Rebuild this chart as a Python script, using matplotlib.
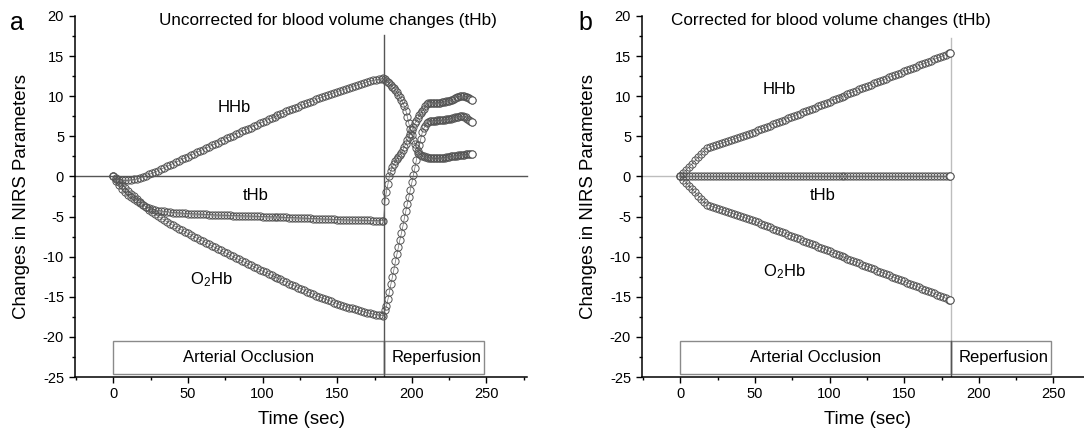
import numpy as np
import matplotlib
matplotlib.use("Agg")
import matplotlib.pyplot as plt
from matplotlib.ticker import MultipleLocator
from matplotlib.patches import Rectangle

plt.rcParams['font.family'] = ['Liberation Sans', 'DejaVu Sans']
plt.rcParams['mathtext.fontset'] = 'custom'
plt.rcParams['mathtext.rm'] = 'Liberation Sans'
plt.rcParams['mathtext.it'] = 'Liberation Sans'
plt.rcParams['axes.unicode_minus'] = False

# ---------------- data ----------------
# sampling grid: 2 s during occlusion, then 1 s during reperfusion
t_occ = np.arange(0, 181, 2).tolist() + [181]
t_rep = np.arange(182, 241, 1).tolist()

# panel a: uncorrected, occlusion phase
hhb_a_occ = [0.00, -0.25, -0.40, -0.48, -0.50, -0.48, -0.44, -0.38, -0.30, -0.18,
             -0.05, 0.10, 0.25, 0.40, 0.55, 0.72, 0.90, 1.08, 1.25, 1.42,
             1.60, 1.78, 1.95, 2.12, 2.30, 2.48, 2.65, 2.82, 3.00, 3.18,
             3.35, 3.52, 3.70, 3.88, 4.05, 4.22, 4.40, 4.58, 4.75, 4.92,
             5.10, 5.28, 5.45, 5.62, 5.80, 5.95, 6.10, 6.28, 6.45, 6.62,
             6.80, 6.95, 7.10, 7.28, 7.45, 7.60, 7.75, 7.92, 8.10, 8.25,
             8.40, 8.55, 8.70, 8.85, 9.00, 9.15, 9.30, 9.45, 9.60, 9.75,
             9.90, 10.02, 10.15, 10.30, 10.45, 10.58, 10.70, 10.82, 10.95, 11.08,
             11.20, 11.32, 11.45, 11.55, 11.65, 11.78, 11.90, 11.98, 12.05, 12.12,
             12.20, 12.30]
thb_a_occ = [0.00, -0.55, -1.10, -1.55, -1.95, -2.30, -2.60, -2.85, -3.10, -3.35,
             -3.55, -3.75, -3.90, -4.05, -4.15, -4.25, -4.30, -4.35, -4.40, -4.45,
             -4.50, -4.52, -4.55, -4.57, -4.60, -4.62, -4.65, -4.67, -4.70, -4.70,
             -4.72, -4.73, -4.75, -4.78, -4.80, -4.81, -4.82, -4.84, -4.85, -4.86,
             -4.87, -4.89, -4.90, -4.91, -4.92, -4.94, -4.95, -4.96, -4.97, -4.99,
             -5.00, -5.01, -5.02, -5.04, -5.05, -5.07, -5.08, -5.09, -5.10, -5.12,
             -5.13, -5.15, -5.16, -5.18, -5.20, -5.22, -5.23, -5.25, -5.27, -5.29,
             -5.30, -5.32, -5.33, -5.35, -5.36, -5.38, -5.39, -5.41, -5.42, -5.43,
             -5.44, -5.45, -5.46, -5.47, -5.48, -5.49, -5.49, -5.50, -5.50, -5.50,
             -5.50, -5.50]
o2hb_a_occ = [0.00, -0.30, -0.70, -1.07, -1.45, -1.82, -2.16, -2.47, -2.80, -3.17,
              -3.50, -3.85, -4.15, -4.45, -4.70, -4.97, -5.20, -5.43, -5.65, -5.87,
              -6.10, -6.30, -6.50, -6.69, -6.90, -7.10, -7.30, -7.49, -7.70, -7.88,
              -8.07, -8.25, -8.45, -8.66, -8.85, -9.03, -9.22, -9.42, -9.60, -9.78,
              -9.97, -10.17, -10.35, -10.53, -10.72, -10.89, -11.05, -11.24, -11.42, -11.61,
              -11.80, -11.96, -12.12, -12.32, -12.50, -12.67, -12.83, -13.01, -13.20, -13.37,
              -13.53, -13.70, -13.86, -14.03, -14.20, -14.37, -14.53, -14.70, -14.87, -15.02,
              -15.15, -15.30, -15.44, -15.58, -15.72, -15.85, -15.98, -16.10, -16.22, -16.34,
              -16.45, -16.56, -16.67, -16.78, -16.88, -16.98, -17.07, -17.15, -17.22, -17.28,
              -17.33, -17.35]

# panel a: reperfusion phase (182..240 s)
hhb_a_rep = [12.10, 11.95, 11.80, 11.60, 11.40, 11.20, 11.00, 10.80, 10.50, 10.20,
             9.90, 9.55, 9.15, 8.75, 8.20, 7.40, 6.60, 5.90, 5.15, 4.60,
             4.10, 3.60, 3.15, 2.85, 2.70, 2.60, 2.50, 2.45, 2.40, 2.35,
             2.30, 2.30, 2.30, 2.25, 2.25, 2.25, 2.30, 2.30, 2.30, 2.35,
             2.35, 2.40, 2.40, 2.45, 2.50, 2.50, 2.55, 2.60, 2.60, 2.65,
             2.65, 2.70, 2.70, 2.70, 2.75, 2.75, 2.75, 2.75, 2.75]
thb_a_rep = [-3.00, -1.90, -0.90, 0.05, 0.70, 1.20, 1.60, 1.90, 2.20, 2.45,
             2.70, 2.95, 3.30, 3.70, 4.10, 4.50, 4.90, 5.30, 5.75, 6.20,
             6.60, 6.95, 7.30, 7.60, 7.85, 8.15, 8.45, 8.75, 9.00, 9.15,
             9.20, 9.20, 9.20, 9.15, 9.15, 9.15, 9.20, 9.20, 9.25, 9.30,
             9.30, 9.35, 9.40, 9.45, 9.50, 9.55, 9.65, 9.75, 9.85, 9.90,
             10.00, 10.05, 10.05, 10.00, 9.95, 9.85, 9.75, 9.65, 9.55]
o2hb_a_rep = [-16.70, -16.20, -15.30, -14.40, -13.40, -12.50, -11.60, -10.60, -9.70, -8.80,
              -7.90, -7.10, -6.20, -5.20, -4.30, -3.40, -2.60, -1.70, -0.75, 0.15,
              1.05, 2.00, 2.90, 3.90, 4.70, 5.50, 6.00, 6.35, 6.60, 6.80,
              6.90, 6.90, 6.95, 6.95, 6.95, 7.00, 7.00, 7.00, 7.00, 7.05,
              7.05, 7.10, 7.10, 7.15, 7.20, 7.25, 7.30, 7.35, 7.40, 7.45,
              7.50, 7.50, 7.50, 7.45, 7.35, 7.20, 7.05, 6.90, 6.80]

# panel b: corrected for tHb, occlusion phase only
hhb_b = [0.00, 0.40, 0.80, 1.20, 1.60, 2.00, 2.40, 2.80, 3.20, 3.50,
         3.65, 3.78, 3.90, 4.03, 4.16, 4.29, 4.42, 4.55, 4.68, 4.81,
         4.94, 5.07, 5.20, 5.33, 5.46, 5.59, 5.74, 5.89, 6.04, 6.19,
         6.34, 6.49, 6.64, 6.79, 6.94, 7.09, 7.24, 7.39, 7.54, 7.69,
         7.84, 7.99, 8.14, 8.29, 8.44, 8.59, 8.74, 8.89, 9.04, 9.19,
         9.34, 9.49, 9.64, 9.79, 9.94, 10.09, 10.24, 10.39, 10.54, 10.69,
         10.84, 10.99, 11.14, 11.29, 11.44, 11.59, 11.74, 11.89, 12.04, 12.19,
         12.34, 12.49, 12.64, 12.79, 12.94, 13.09, 13.24, 13.39, 13.54, 13.69,
         13.84, 13.99, 14.14, 14.29, 14.44, 14.59, 14.74, 14.89, 15.04, 15.19,
         15.34, 15.40]
o2hb_b = [0.00, -0.40, -0.80, -1.20, -1.60, -2.00, -2.40, -2.80, -3.20, -3.50,
          -3.65, -3.78, -3.90, -4.03, -4.16, -4.29, -4.42, -4.55, -4.68, -4.81,
          -4.94, -5.07, -5.20, -5.33, -5.46, -5.59, -5.74, -5.89, -6.04, -6.19,
          -6.34, -6.49, -6.64, -6.79, -6.94, -7.09, -7.24, -7.39, -7.54, -7.69,
          -7.84, -7.99, -8.14, -8.29, -8.44, -8.59, -8.74, -8.89, -9.04, -9.19,
          -9.34, -9.49, -9.64, -9.79, -9.94, -10.09, -10.24, -10.39, -10.54, -10.69,
          -10.84, -10.99, -11.14, -11.29, -11.44, -11.59, -11.74, -11.89, -12.04, -12.19,
          -12.34, -12.49, -12.64, -12.79, -12.94, -13.09, -13.24, -13.39, -13.54, -13.69,
          -13.84, -13.99, -14.14, -14.29, -14.44, -14.59, -14.74, -14.89, -15.04, -15.19,
          -15.34, -15.40]
thb_b = [0.0, 0.0, 0.0, 0.0, 0.0, 0.0, 0.0, 0.0, 0.0, 0.0,
         0.0, 0.0, 0.0, 0.0, 0.0, 0.0, 0.0, 0.0, 0.0, 0.0,
         0.0, 0.0, 0.0, 0.0, 0.0, 0.0, 0.0, 0.0, 0.0, 0.0,
         0.0, 0.0, 0.0, 0.0, 0.0, 0.0, 0.0, 0.0, 0.0, 0.0,
         0.0, 0.0, 0.0, 0.0, 0.0, 0.0, 0.0, 0.0, 0.0, 0.0,
         0.0, 0.0, 0.0, 0.0, 0.0, 0.0, 0.0, 0.0, 0.0, 0.0,
         0.0, 0.0, 0.0, 0.0, 0.0, 0.0, 0.0, 0.0, 0.0, 0.0,
         0.0, 0.0, 0.0, 0.0, 0.0, 0.0, 0.0, 0.0, 0.0, 0.0,
         0.0, 0.0, 0.0, 0.0, 0.0, 0.0, 0.0, 0.0, 0.0, 0.0,
         0.0, 0.0]

occlusion_end = 181.5
reperfusion_end = 248.5
phase_labels = ["Arterial Occlusion", "Reperfusion"]
titles = ["Uncorrected for blood volume changes (tHb)",
          "Corrected for blood volume changes (tHb)"]
panel_letters = ["a", "b"]

# ---------------- figure ----------------
W, H = 1084, 436
fig = plt.figure(figsize=(W / 100, H / 100), dpi=100)

xlim = (-25.5, 277.0)
ax_w = 451.6 / W
ax_h = 361 / H
ax_b = (H - 377) / H
axa = fig.add_axes([75.2 / W, ax_b, ax_w, ax_h])
axb = fig.add_axes([642.2 / W, ax_b, ax_w, ax_h])

line_kw = dict(linestyle='-', color='#707070', lw=0.5, zorder=3)
mk_kw = dict(linestyle='none', marker='o', ms=5.2, mfc='none',
             mec='#555555', mew=0.7, zorder=4)
end_kw = dict(linestyle='none', marker='o', ms=5.2, mfc='white',
              mec='#555555', mew=0.7, zorder=5)


def draw(ax, t, v):
    ax.plot(t, v, **line_kw)
    ax.plot(t, v, **mk_kw)
    ax.plot(t[-1:], v[-1:], **end_kw)


t_all = t_occ + t_rep
draw(axa, t_all, hhb_a_occ + hhb_a_rep)
draw(axa, t_all, thb_a_occ + thb_a_rep)
draw(axa, t_all, o2hb_a_occ + o2hb_a_rep)

draw(axb, t_occ, hhb_b)
draw(axb, t_occ, o2hb_b)
draw(axb, t_occ, thb_b)

for ax, light in ((axa, False), (axb, True)):
    ax.set_xlim(*xlim)
    ax.set_ylim(-25, 20)
    ax.spines['top'].set_visible(False)
    ax.spines['right'].set_visible(False)
    for s in ('left', 'bottom'):
        ax.spines[s].set_linewidth(1.1)
    ax.xaxis.set_major_locator(MultipleLocator(50))
    ax.xaxis.set_minor_locator(MultipleLocator(25))
    ax.yaxis.set_major_locator(MultipleLocator(5))
    ax.yaxis.set_minor_locator(MultipleLocator(2.5))
    ax.tick_params(which='major', direction='out', length=4.5, width=1.0,
                   labelsize=10.5)
    ax.tick_params(which='minor', direction='out', length=2.5, width=1.0)
    ax.tick_params(axis='x', which='major', pad=2.5)
    ax.set_xlabel("Time (sec)", fontsize=13.4)
    ax.set_ylabel("Changes in NIRS Parameters", fontsize=13.4)
    ax.xaxis.set_label_coords(0.5, -0.095)
    ax.yaxis.set_label_coords(-0.100, 0.5)

    # phase boxes
    ax.add_patch(Rectangle((0, -24.6), occlusion_end, 4.1, fill=False,
                           ec='#8a8a8a', lw=1.0, zorder=2))
    ax.add_patch(Rectangle((occlusion_end, -24.6), reperfusion_end - occlusion_end, 4.1,
                           fill=False, ec='#8a8a8a', lw=1.0, zorder=2))
    ax.plot([occlusion_end, occlusion_end], [-25, -20.5], color='#555555', lw=1.0, zorder=2)
    ax.text(occlusion_end / 2, -22.55, phase_labels[0], ha='center', va='center',
            fontsize=12)
    ax.text((occlusion_end + reperfusion_end) / 2 + 1.5, -22.55, phase_labels[1],
            ha='center', va='center', fontsize=12)

# reference lines
axa.plot([xlim[0], xlim[1]], [0, 0], color='#555555', lw=1.0, zorder=1, clip_on=False)
axa.plot([occlusion_end, occlusion_end], [-20.5, 17.6], color='#555555', lw=1.0, zorder=1)
axb.plot([xlim[0], occlusion_end], [0, 0], color='#bdbdbd', lw=1.0, zorder=1)
axb.plot([occlusion_end, occlusion_end], [-20.5, 17.3], color='#bdbdbd', lw=1.0, zorder=1)

# curve labels
axa.text(80.8, 8.07, "HHb", ha='center', va='baseline', fontsize=12)
axa.text(95.2, -2.94, "tHb", ha='center', va='baseline', fontsize=12)
axa.text(65.6, -13.42, r"O$_\mathrm{2}$Hb", ha='center', va='baseline', fontsize=12)
axb.text(66.4, 10.24, "HHb", ha='center', va='baseline', fontsize=12)
axb.text(95.5, -2.94, "tHb", ha='center', va='baseline', fontsize=12)
axb.text(70.0, -12.4, r"O$_\mathrm{2}$Hb", ha='center', va='baseline', fontsize=12)

# titles and panel letters
fig.text(328 / W, 1 - 21 / H, titles[0], ha='center', va='center', fontsize=12.3)
fig.text(830.5 / W, 1 - 21 / H, titles[1], ha='center', va='center', fontsize=12.3)
fig.text(17 / W, 1 - 23 / H, panel_letters[0], ha='center', va='center', fontsize=18)
fig.text(585 / W, 1 - 23 / H, panel_letters[1], ha='center', va='center', fontsize=18)

fig.savefig("out.png", dpi=100)
